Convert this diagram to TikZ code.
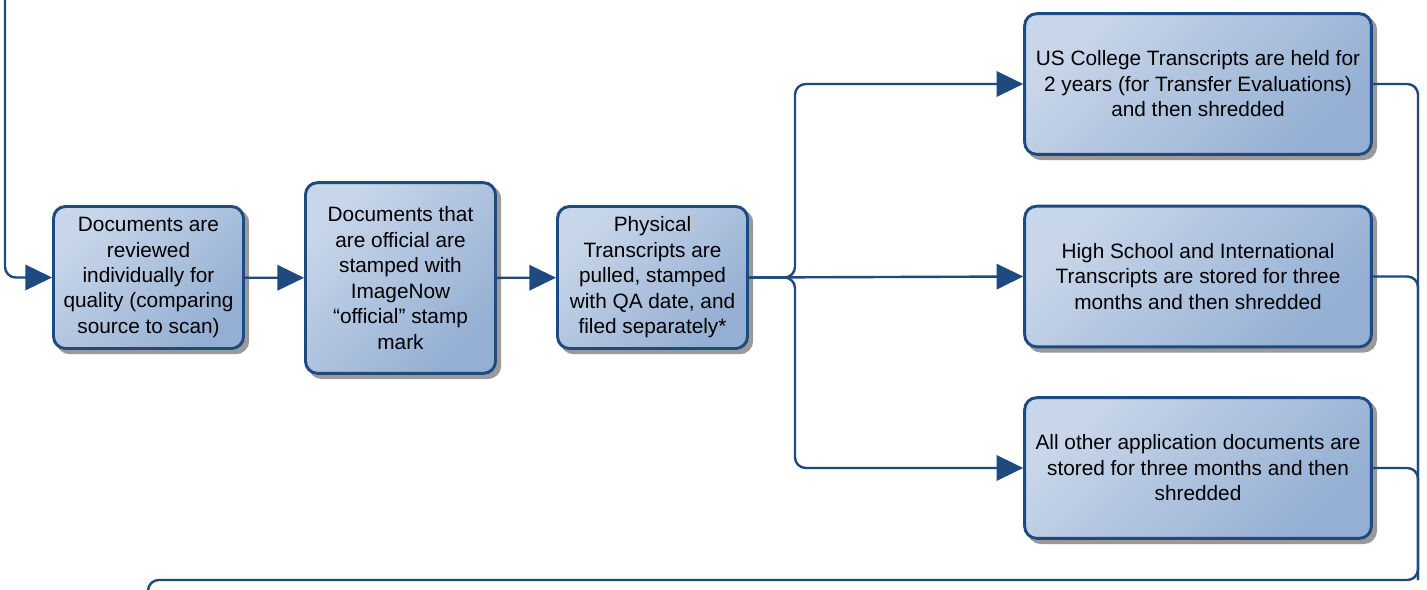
\documentclass[tikz,border=0pt]{standalone}
\usepackage{fontspec}
\setmainfont{Liberation Sans}
\usetikzlibrary{arrows.meta}

\definecolor{cpborder}{HTML}{1F4A7F}
\definecolor{cplight}{HTML}{C8D6E9}
\definecolor{cpdark}{HTML}{94AFD3}
\definecolor{cpshadow}{HTML}{9A9A9A}

\tikzset{
  stepbox/.style={draw=cpborder, line width=2.2pt, rounded corners=9pt,
    preaction={fill=cpshadow, draw=cpshadow, line width=2.2pt,
      transform canvas={xshift=3.2pt, yshift=-3.2pt}},
    top color=cplight, bottom color=cpdark, shading angle=45,
    align=center, inner sep=2pt,
    font=\fontsize{15.6}{19.1}\selectfont},
  smallbox/.style={stepbox, minimum width=142.5pt, minimum height=106.5pt},
  widebox/.style={stepbox, minimum width=260pt, minimum height=105.5pt},
  flow/.style={draw=cpborder, line width=1.8pt, rounded corners=8pt},
  flowarrow/.style={flow, -{Triangle[length=20pt,width=19pt]}},
}

\begin{document}
\begin{tikzpicture}[x=0.75pt,y=-0.75pt]

  \useasboundingbox (0,0) rectangle (1427,589);

  % main row
  \node[smallbox] (review) at (148.5,277.5)
    {Documents are\\reviewed\\individually for\\quality (comparing\\source to scan)};
  \node[smallbox, minimum height=143pt] (stamp) at (400.5,278)
    {Documents that\\are official are\\stamped with\\ImageNow\\“official” stamp\\mark};
  \node[smallbox] (pull) at (652.5,277.5)
    {Physical\\Transcripts are\\pulled, stamped\\with QA date, and\\filed separately*};

  % retention
  \node[widebox] (college) at (1198,84)
    {US College Transcripts are held for\\2 years (for Transfer Evaluations)\\and then shredded};
  \node[widebox] (highschool) at (1198,276.5)
    {High School and International\\Transcripts are stored for three\\months and then shredded};
  \node[widebox] (other) at (1198,468)
    {All other application documents are\\stored for three months and then\\shredded};

  \coordinate (entry) at (5,-10);
  \coordinate (fork) at (795,277.5);
  \coordinate (rail) at (1418,580);
  \coordinate (loopturn) at (148,580);
  \coordinate (loopend) at (148,610);

  \draw[flowarrow] (entry) |- (review.west);
  \draw[flowarrow] (review) -- (stamp);
  \draw[flowarrow] (stamp) -- (pull);

  \draw[flowarrow] (pull.east) -- (fork) |- (college.west);
  \draw[flowarrow] (pull.east) -- (highschool.west);
  \draw[flowarrow] (pull.east) -- (fork) |- (other.west);

  \draw[flow] (college.east) -| (rail) -- (loopturn) -- (loopend);
  \draw[flow] (highschool.east) -| (rail);
  \draw[flow] (other.east) -| (rail);

\end{tikzpicture}
\end{document}
